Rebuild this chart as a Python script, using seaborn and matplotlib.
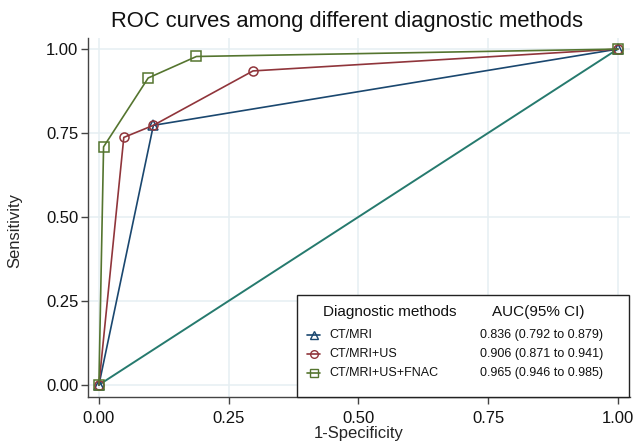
import matplotlib
matplotlib.use('Agg')
import matplotlib.pyplot as plt
from matplotlib.lines import Line2D
from matplotlib.patches import Rectangle
import pandas as pd
import seaborn as sns

# ROC points
fpr_ct = [0.0, 0.105, 1.0]
tpr_ct = [0.0, 0.773, 1.0]
fpr_us = [0.0, 0.048, 0.105, 0.297, 1.0]
tpr_us = [0.0, 0.737, 0.773, 0.935, 1.0]
fpr_fnac = [0.0, 0.009, 0.095, 0.188, 1.0]
tpr_fnac = [0.0, 0.709, 0.914, 0.978, 1.0]
ref_x = [0.0, 1.0]
ref_y = [0.0, 1.0]

methods = ['CT/MRI', 'CT/MRI+US', 'CT/MRI+US+FNAC']
auc_text = ['0.836 (0.792 to 0.879)', '0.906 (0.871 to 0.941)', '0.965 (0.946 to 0.985)']
ticks = [0, 0.25, 0.5, 0.75, 1.0]
tick_labels = ['0.00', '0.25', '0.50', '0.75', '1.00']

colors = ['#1a476f', '#90353b', '#55752f']
markers = ['^', 'o', 's']
teal = '#267a6e'

sns.set_theme(style='white')
plt.rcParams['font.family'] = ['Liberation Sans', 'DejaVu Sans']

fig = plt.figure(figsize=(6.35, 4.41), dpi=100)
ax = fig.add_axes([0.1386, 0.0998, 0.853, 0.814])

ax.set_xlim(-0.021, 1.023)
ax.set_ylim(-0.036, 1.033)
ax.set_xticks(ticks)
ax.set_yticks(ticks)
ax.set_xticklabels(tick_labels, fontsize=12)
ax.set_yticklabels(tick_labels, fontsize=12)
ax.grid(True, color='#e6eff2', linewidth=1.1)
ax.set_axisbelow(True)
for s in ['top', 'right']:
    ax.spines[s].set_visible(False)
for s in ['left', 'bottom']:
    ax.spines[s].set_color('#444444')
    ax.spines[s].set_linewidth(1.0)
ax.tick_params(axis='both', direction='out', length=5, width=1, color='#444444',
               left=True, bottom=True, pad=2, labelcolor='#111111')
ax.tick_params(axis='x', pad=5)

curves = [(fpr_ct, tpr_ct), (fpr_us, tpr_us), (fpr_fnac, tpr_fnac)]
sns.lineplot(x=ref_x, y=ref_y, ax=ax, color=teal, linewidth=1.4, sort=False)
for (fx, ty), c, m in zip(curves, colors, markers):
    df = pd.DataFrame({'fpr': fx, 'tpr': ty})
    sns.lineplot(data=df, x='fpr', y='tpr', ax=ax, color=c, marker=m,
                 markersize=6.5, markerfacecolor='none', markeredgecolor=c,
                 markeredgewidth=1.1, linewidth=1.2, sort=False, estimator=None)

ax.set_xlabel('1-Specificity', fontsize=12, labelpad=0)
ax.set_ylabel('Sensitivity', fontsize=12)
ax.yaxis.set_label_coords(-0.122, 0.465)
fig.text(0.547, 0.952, 'ROC curves among different diagnostic methods',
         ha='center', va='center', fontsize=15.8, color='#111111')

# legend box drawn by hand (two columns)
W, H = 635.0, 441.0
box = Rectangle((297 / W, 1 - 397 / H), (629 - 297) / W, (397 - 295) / H,
                transform=fig.transFigure, facecolor='white', edgecolor='#222222',
                linewidth=1.0, zorder=5)
fig.add_artist(box)
fig.text(323 / W, 1 - 312 / H, 'Diagnostic methods', fontsize=11, va='center',
         ha='left', color='#111111', zorder=6)
fig.text(492 / W, 1 - 312 / H, 'AUC(95% CI)', fontsize=11, va='center',
         ha='left', color='#111111', zorder=6)
for i, (name, auc, c, m) in enumerate(zip(methods, auc_text, colors, markers)):
    yy = 1 - (335 + 19 * i) / H
    ln = Line2D([307 / W, 320 / W], [yy, yy], transform=fig.transFigure, color=c,
                linewidth=1.2, zorder=6)
    fig.add_artist(ln)
    mk = Line2D([313.5 / W], [yy], transform=fig.transFigure, color=c, marker=m,
                markersize=5.5, markerfacecolor='none', markeredgewidth=1.0,
                linestyle='none', zorder=7)
    fig.add_artist(mk)
    fig.text(329 / W, yy, name, fontsize=9, va='center', ha='left',
             color='#111111', zorder=6)
    fig.text(603 / W, yy, auc, fontsize=9, va='center', ha='right',
             color='#111111', zorder=6)

fig.savefig('out.png', dpi=100)
